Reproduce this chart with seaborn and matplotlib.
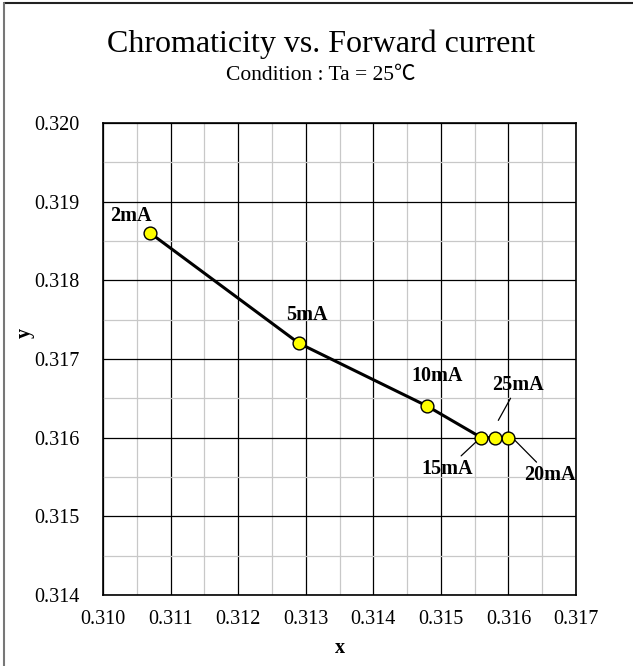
import numpy as np
import pandas as pd
import matplotlib
matplotlib.use("Agg")
import matplotlib.pyplot as plt
import seaborn as sns
from matplotlib.lines import Line2D

# 데이터
currents = ["2mA", "5mA", "10mA", "15mA", "20mA", "25mA"]
x_vals = [0.3107, 0.3129, 0.3148, 0.3156, 0.3160, 0.3158]
y_vals = [0.3186, 0.3172, 0.3164, 0.3160, 0.3160, 0.3160]

df = pd.DataFrame({"current": currents, "x": x_vals, "y": y_vals})

sns.set_style("white")
plt.rcParams["font.family"] = ["Liberation Serif", "DejaVu Serif"]
plt.rcParams["text.color"] = "black"
plt.rcParams["axes.labelcolor"] = "black"
plt.rcParams["xtick.color"] = "black"
plt.rcParams["ytick.color"] = "black"

fig = plt.figure(figsize=(6.33, 6.66), dpi=100)
ax = fig.add_axes([0.1627, 0.1066, 0.7473, 0.7087])

# 선 + 마커
sns.lineplot(data=df, x="x", y="y", sort=False, color="black", linewidth=2.2,
             ax=ax, zorder=3)
sns.scatterplot(data=df, x="x", y="y", color="#FFFF00", edgecolor="black",
                linewidth=1.0, s=85, ax=ax, zorder=4)

ax.set_xlim(0.310, 0.317)
ax.set_ylim(0.314, 0.320)
xt = np.arange(0.310, 0.3171, 0.001)
yt = np.arange(0.314, 0.3201, 0.001)
ax.set_xticks(xt)
ax.set_yticks(yt)
ax.set_xticks(np.arange(0.3105, 0.317, 0.001), minor=True)
ax.set_yticks(np.arange(0.3145, 0.320, 0.001), minor=True)
ax.set_xticklabels([f"{v:.3f}" for v in xt])
ax.set_yticklabels([f"{v:.3f}" for v in yt])
ax.grid(which="major", color="black", linewidth=0.9, zorder=1)
ax.grid(which="minor", color="#c8c8c8", linewidth=0.9, zorder=0)
ax.set_axisbelow(True)
ax.tick_params(which="both", length=0, labelsize=14.5)
ax.tick_params(axis="x", pad=11)
ax.tick_params(axis="y", pad=17)
for s in ax.spines.values():
    s.set_color("black")
    s.set_linewidth(1.2)

ax.set_xlabel("x", fontsize=14.5, fontweight="bold", labelpad=6)
ax.set_ylabel("y", fontsize=14.5, fontweight="bold")
ax.yaxis.set_label_coords(-0.145, 0.555)

# 라벨
lbl = dict(fontsize=14.5, fontweight="bold", ha="center", va="center")
ax.text(0.31042, 0.31882, "2mA", **lbl)
ax.text(0.31302, 0.31756, "5mA", **lbl)
ax.text(0.31494, 0.31679, "10mA", **lbl)
arr = dict(arrowstyle="-", color="black", linewidth=0.9, shrinkA=0, shrinkB=0)
ax.annotate("25mA", xy=(0.31585, 0.31622), xytext=(0.31614, 0.31667),
            arrowprops=arr, **lbl)
ax.annotate("15mA", xy=(0.31555, 0.31597), xytext=(0.31509, 0.31560),
            arrowprops=arr, **lbl)
ax.annotate("20mA", xy=(0.31608, 0.31598), xytext=(0.31661, 0.31552),
            arrowprops=arr, **lbl)

# 제목
fig.text(0.508, 0.922, "Chromaticity vs. Forward current", fontsize=23,
         ha="center", va="baseline")
fig.text(0.507, 0.880, "Condition : Ta = 25℃", fontsize=15.5,
         ha="center", va="baseline",
         family=["Liberation Serif", "Noto Sans CJK JP", "DejaVu Sans"])

# 외곽선 (위, 왼쪽만 보임)
fig.lines.append(Line2D([0.006, 1.0], [0.9955, 0.9955], transform=fig.transFigure,
                        color="#222222", linewidth=1.5))
fig.lines.append(Line2D([0.0065, 0.0065], [0.0, 0.9955], transform=fig.transFigure,
                        color="#777777", linewidth=1.5))

fig.savefig("out.png", dpi=100)
